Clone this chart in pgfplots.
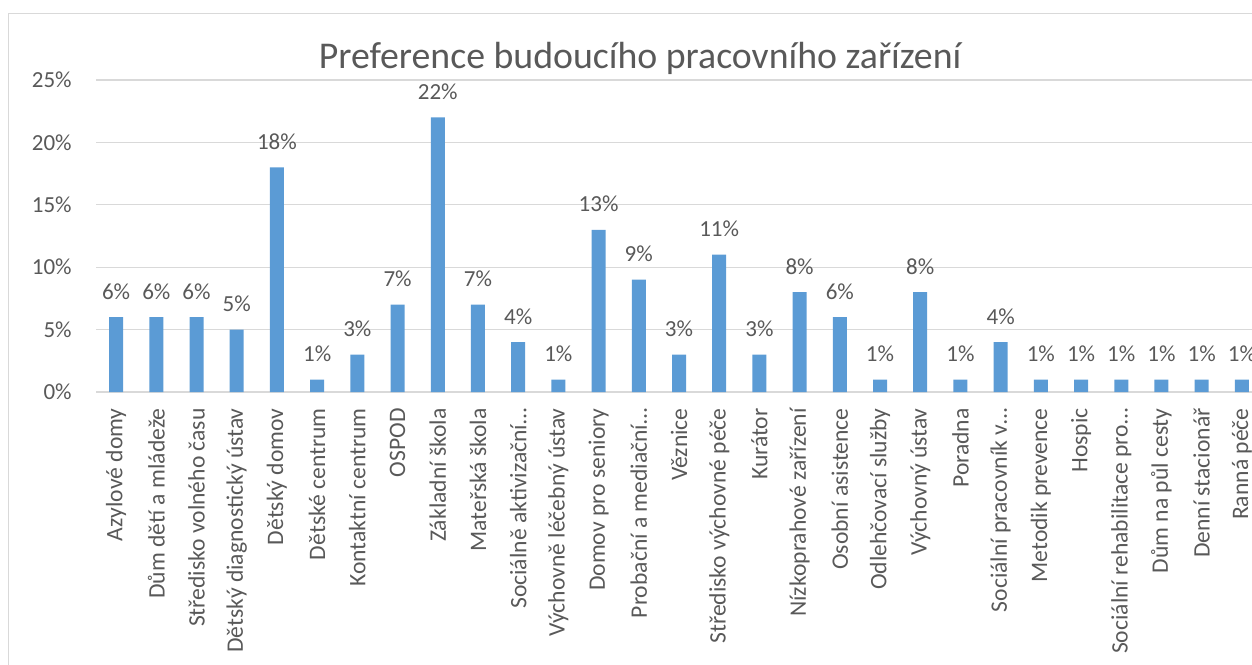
\documentclass[border=0pt]{standalone}
\usepackage{fontspec}
\setmainfont{Carlito}
\usepackage{pgfplots}
\pgfplotsset{compat=1.18}
\definecolor{barblue}{HTML}{5B9BD5}
\definecolor{txtgray}{HTML}{595959}
\definecolor{gridgray}{HTML}{D9D9D9}
\begin{document}
\begin{tikzpicture}
\path[use as bounding box] (0,0) rectangle (626pt,332pt);
\clip (0,0) rectangle (626pt,332pt);
\draw[gridgray, line width=0.75pt] (4.2pt,-20pt) rectangle (700pt,325.3pt);
\begin{axis}[
  at={(48pt,136pt)}, anchor=south west,
  scale only axis, width=583pt, height=156pt,
  ybar, bar width=7pt,
  xmin=-0.5, xmax=28.5, ymin=0, ymax=25,
  ytick={0,5,10,15,20,25},
  yticklabel={\pgfmathprintnumber[assume math mode=true]{\tick}\%},
  xtick={0,...,28},
  xticklabels={Azylové domy, Dům dětí a mládeže, Středisko volného času, Dětský diagnostický ústav, Dětský domov, Dětské centrum, Kontaktní centrum, OSPOD, Základní škola, Mateřská škola, Sociálně aktivizační…, Výchovně léčebný ústav, Domov pro seniory, Probační a mediační…, Věznice, Středisko výchovné péče, Kurátor, Nízkoprahové zařízení, Osobní asistence, Odlehčovací služby, Výchovný ústav, Poradna, Sociální pracovník v…, Metodik prevence, Hospic, Sociální rehabilitace pro…, Dům na půl cesty, Denní stacionář, Ranná péče},
  major tick length=0pt,
  axis x line*=bottom, axis y line*=left,
  y axis line style={draw=none},
  x axis line style={draw=gridgray, line width=0.75pt},
  ymajorgrids, grid style={draw=gridgray, line width=0.65pt},
  xticklabel style={yshift=-8pt, rotate=90, anchor=east, inner sep=0pt, font=\fontsize{11.8}{14}\selectfont, text=txtgray},
  yticklabel style={anchor=east, inner sep=0pt, xshift=-12pt, font=\fontsize{11.5}{14}\selectfont, text=txtgray},
  title={Preference budoucího pracovního zařízení},
  title style={at={(0.4666,1)}, anchor=base, yshift=-0.5pt, inner sep=0pt, font=\fontsize{18.9}{22}\selectfont, text=txtgray},
  nodes near coords={\pgfmathprintnumber[assume math mode=true]{\pgfplotspointmeta}\%},
  every node near coord/.append style={anchor=base, yshift=9pt, inner sep=0pt, font=\fontsize{11.5}{14}\selectfont, text=txtgray},
]
\addplot[fill=barblue, draw=none] coordinates {
(0,6) (1,6) (2,6) (3,5) (4,18) (5,1) (6,3) (7,7) (8,22) (9,7)
(10,4) (11,1) (12,13) (13,9) (14,3) (15,11) (16,3) (17,8) (18,6) (19,1)
(20,8) (21,1) (22,4) (23,1) (24,1) (25,1) (26,1) (27,1) (28,1)
};
\end{axis}
\end{tikzpicture}
\end{document}
